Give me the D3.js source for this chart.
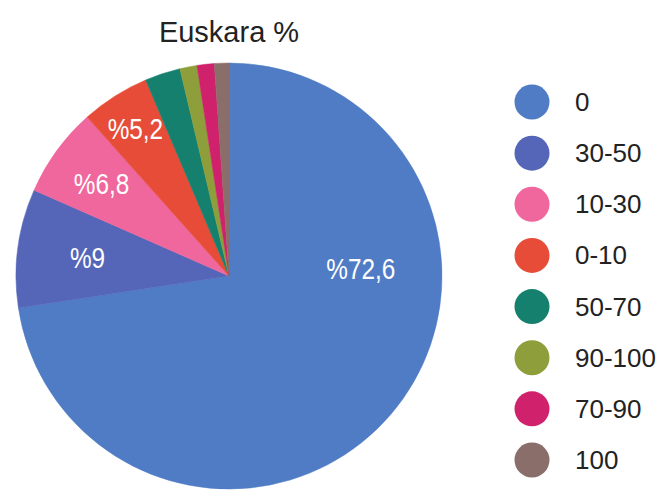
<!DOCTYPE html>
<html><head><meta charset="utf-8">
<script src="https://cdn.jsdelivr.net/npm/d3@7"></script>
<style>
html,body{margin:0;padding:0;background:#fff;}
svg{display:block;}
</style></head>
<body>
<svg id="chart" width="664" height="493"></svg>
<script>
const categories = ["0", "30-50", "10-30", "0-10", "50-70", "90-100", "70-90", "100"];
const values = [72.6, 9, 6.8, 5.2, 2.7, 1.3, 1.3, 1.1];
const shownLabels = ["%72,6", "%9", "%6,8", "%5,2", "", "", "", ""];
const colors = ["#4f7cc4", "#5566b9", "#ef679c", "#e64c37", "#16806f", "#8e9e3b", "#d0216c", "#8a6e69"];
const title = "Euskara %";

const svg = d3.select("#chart");
const cx = 229, cy = 276, R = 213;

svg.append("text")
  .attr("x", cx).attr("y", 42)
  .attr("text-anchor", "middle")
  .attr("font-family", "'Liberation Sans', Arial, sans-serif")
  .attr("font-size", 29)
  .attr("fill", "#222")
  .text(title);

const data = categories.map((c, i) => ({cat: c, value: values[i], label: shownLabels[i], color: colors[i]}));
const pie = d3.pie().value(d => d.value).sort(null);
const arcs = pie(data);
const arc = d3.arc().innerRadius(0).outerRadius(R);

const g = svg.append("g").attr("transform", `translate(${cx},${cy})`);
g.selectAll("path").data(arcs).enter().append("path")
  .attr("d", arc)
  .attr("fill", d => d.data.color)
  .attr("stroke", d => d.data.color)
  .attr("stroke-width", 0.5);

// label placement: big slice label sits just right of centre, others on mid-angle
const radFrac = [0.62, 0.67, 0.74, 0.82];
g.selectAll("text.lbl").data(arcs.filter(d => d.data.label)).enter().append("text")
  .attr("class", "lbl")
  .attr("transform", d => {
    let a = (d.startAngle + d.endAngle) / 2;
    if (d.endAngle - d.startAngle > Math.PI) a = Math.PI / 2 * 0.963;
    const r = R * radFrac[d.index];
    return `translate(${Math.sin(a) * r},${-Math.cos(a) * r}) scale(0.84,1.04)`;
  })
  .attr("text-anchor", "middle")
  .attr("dominant-baseline", "central")
  .attr("font-family", "'Liberation Sans', Arial, sans-serif")
  .attr("font-size", 29)
  .attr("fill", "#fff")
  .text(d => d.data.label);

// legend
const ly = d3.scalePoint().domain(categories).range([102, 460]);
const leg = svg.append("g");
const items = leg.selectAll("g").data(data).enter().append("g")
  .attr("transform", d => `translate(532,${ly(d.cat)})`);
items.append("circle").attr("r", 17.5).attr("fill", d => d.color);
items.append("text")
  .attr("x", 43).attr("y", 0)
  .attr("dominant-baseline", "central")
  .attr("font-family", "'Liberation Sans', Arial, sans-serif")
  .attr("font-size", 26)
  .attr("fill", "#222")
  .text(d => d.cat);
</script>
</body></html>
